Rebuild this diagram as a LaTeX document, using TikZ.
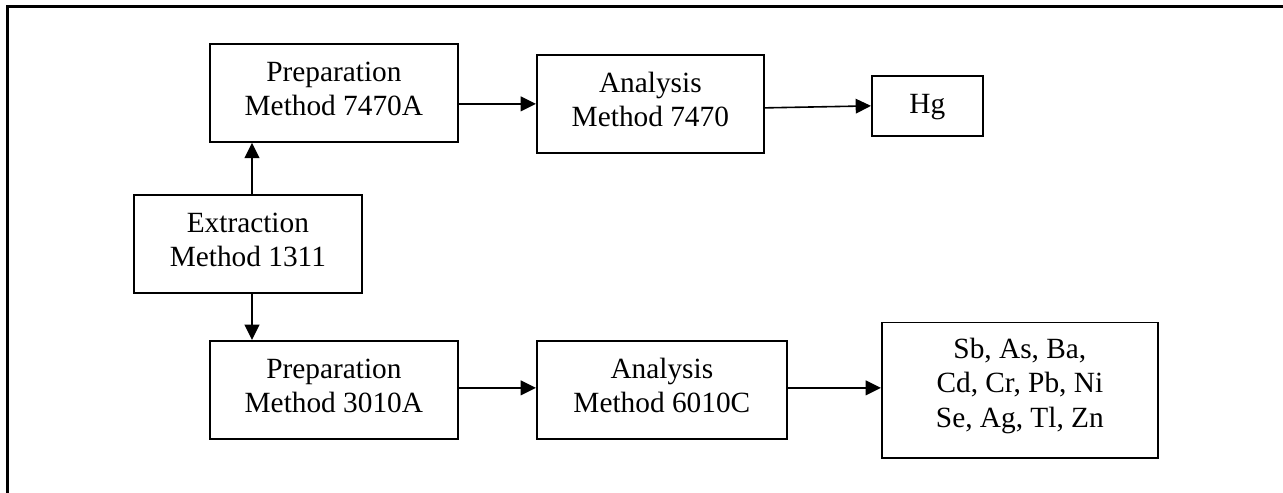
\documentclass[tikz,border=0pt]{standalone}
\usepackage{fontspec}
\setmainfont{Liberation Serif}
\usetikzlibrary{arrows.meta}
\tikzset{
  box/.style={draw, line width=1.3pt, anchor=north west, inner sep=0pt, align=center,
    font={\fontsize{22}{25.2}\selectfont}, text height=53.6pt, text depth=19.9pt},
  arr/.style={line width=1.2pt, -{Triangle[length=11.5pt,width=11pt]}},
  frame/.style={line width=1.9pt}
}
\begin{document}
\begin{tikzpicture}[x=0.75pt, y=-0.75pt]
\useasboundingbox (0,0) rectangle (1283,493);
\draw[frame] (7.5,493) -- (7.5,6.5) -- (1283,6.5);
\node[box, minimum width=186pt] (p7470) at (209,43) {Preparation\\Method 7470A};
\node[box, minimum width=170.25pt] (a7470) at (536,54) {Analysis\\Method 7470};
\node[box, minimum width=83.25pt, text height=28.5pt, text depth=16.5pt] (hg) at (871,75) {Hg};
\node[box, minimum width=171pt] (ext) at (133,194) {Extraction\\Method 1311};
\node[box, minimum width=186pt] (p3010) at (209,340) {Preparation\\Method 3010A};
\node[box, minimum width=187.5pt] (a6010) at (536,340) {Analysis\\Method 6010C};
\node[box, minimum width=207pt, text height=78.5pt, text depth=23.1pt, font={\fontsize{22}{25.7}\selectfont}] (met) at (881,321.5) {Sb, As, Ba,\\Cd, Cr, Pb, Ni\\Se, Ag, Tl, Zn};
\coordinate (et) at ([xshift=89.25pt]ext.north west);
\coordinate (eb) at ([xshift=89.25pt]ext.south west);
\draw[arr] (et) -- (et |- p7470.south);
\draw[arr] (eb) -- (eb |- p3010.north);
\draw[arr] (p7470.east |- a7470.west) -- (a7470.west);
\draw[arr] ([yshift=-3pt]a7470.east) -- (hg.west);
\draw[arr] ([yshift=1.5pt]p3010.east) -- ([yshift=1.5pt]a6010.west);
\draw[arr] ([yshift=1.5pt]a6010.east) -- ([yshift=1.5pt]a6010.east -| met.west);
\end{tikzpicture}
\end{document}
